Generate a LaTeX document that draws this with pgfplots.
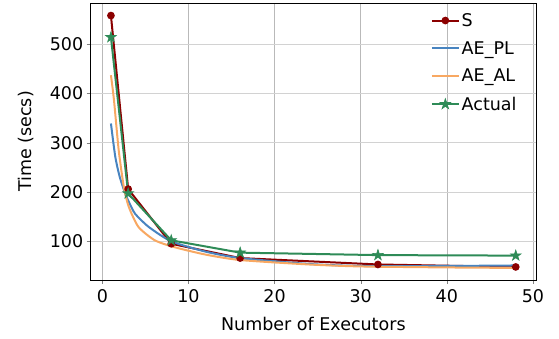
\documentclass[border=0pt]{standalone}
\usepackage{pgfplots}
\pgfplotsset{compat=1.18}
\usepackage{fontspec}
\setmainfont{DejaVu Sans}
\definecolor{cS}{RGB}{139,0,0}
\definecolor{cPL}{RGB}{72,132,192}
\definecolor{cAL}{RGB}{248,168,98}
\definecolor{cAct}{RGB}{46,139,87}
\pgfdeclareplotmark{fstar}{%
  \pgfpathmoveto{\pgfpoint{0pt}{\pgfplotmarksize}}%
  \pgfpathlineto{\pgfpoint{-0.2245\pgfplotmarksize}{0.3090\pgfplotmarksize}}%
  \pgfpathlineto{\pgfpoint{-0.9511\pgfplotmarksize}{0.3090\pgfplotmarksize}}%
  \pgfpathlineto{\pgfpoint{-0.3633\pgfplotmarksize}{-0.1180\pgfplotmarksize}}%
  \pgfpathlineto{\pgfpoint{-0.5878\pgfplotmarksize}{-0.8090\pgfplotmarksize}}%
  \pgfpathlineto{\pgfpoint{0pt}{-0.382\pgfplotmarksize}}%
  \pgfpathlineto{\pgfpoint{0.5878\pgfplotmarksize}{-0.8090\pgfplotmarksize}}%
  \pgfpathlineto{\pgfpoint{0.3633\pgfplotmarksize}{-0.1180\pgfplotmarksize}}%
  \pgfpathlineto{\pgfpoint{0.9511\pgfplotmarksize}{0.3090\pgfplotmarksize}}%
  \pgfpathlineto{\pgfpoint{0.2245\pgfplotmarksize}{0.3090\pgfplotmarksize}}%
  \pgfpathclose\pgfusepathqfillstroke}
\begin{document}
\begin{tikzpicture}
\useasboundingbox (-90.7pt,-59pt) rectangle (468.3pt,280pt);
\begin{axis}[
  at={(0,0)}, anchor=south west,
  scale only axis,
  width=445.3pt, height=277pt,
  xmin=-1.35, xmax=50.35, ymin=21.5, ymax=583.5,
  xtick={0,10,20,30,40,50},
  ytick={100,200,300,400,500},
  tick align=outside,
  tick pos=left,
  major tick length=4pt,
  /pgf/number format/assume math mode=true,
  tick label style={font=\fontsize{17.5}{20}\selectfont},
  xticklabel style={yshift=-2pt},
  label style={font=\fontsize{17.5}{20}\selectfont},
  xlabel={Number of Executors},
  ylabel={Time (secs)},
  xlabel style={yshift=-8pt},
  ylabel style={yshift=9pt},
  grid=major,
  x grid style={gray!55, line width=0.7pt},
  y grid style={gray!35, line width=0.9pt},
  axis line style={black, line width=0.7pt},
  legend style={draw=none, fill=none, at={(0.968,0.978)}, anchor=north east,
    font=\fontsize{17.5}{20}\selectfont, row sep=9.5pt},
  legend cell align=left,
  legend image code/.code={%
    \draw[mark repeat=2,mark phase=2] plot coordinates {(0cm,0cm) (0.47cm,0cm) (0.94cm,0cm)};},
]
\addplot[cS, line width=2pt, mark=*, mark size=2.8pt] coordinates {
 (1,558) (3,206) (8,95) (16,66) (32,53) (48,48)};
\addlegendentry{S}
\addplot[cPL, line width=2pt, smooth, tension=0.4] coordinates {
 (1,339) (1.5,272) (2,232) (2.7,194) (3,183) (3.8,156) (5.4,129) (8,100)
 (12,79) (16,66) (24,54) (30,50) (40,50) (48,51)};
\addlegendentry{AE\_PL}
\addplot[cAL, line width=2pt, smooth, tension=0.4] coordinates {
 (1,437) (1.35,387) (1.9,285) (2.5,210) (3.07,170) (4.2,129) (6.1,102) (8.4,88)
 (12,73) (16,62) (24,53) (30,49) (40,47) (48,46)};
\addlegendentry{AE\_AL}
\addplot[cAct, line width=2pt, mark=fstar, mark size=5.6pt, mark options={line width=0.6pt, fill=cAct, draw=cAct}] coordinates {
 (1,514) (3,197) (8,102) (16,77) (32,72) (48,71)};
\addlegendentry{Actual}
\end{axis}
\end{tikzpicture}
\end{document}
